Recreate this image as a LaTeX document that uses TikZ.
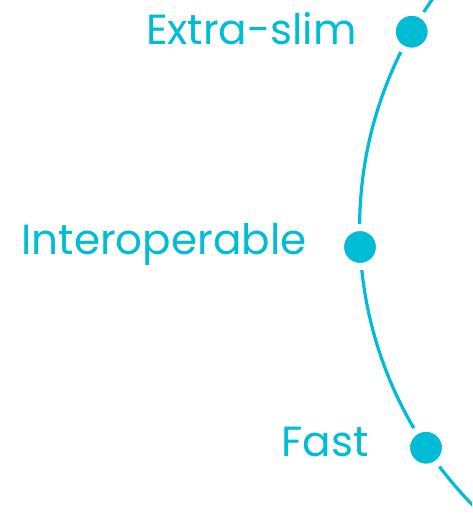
\documentclass[tikz,border=0pt]{standalone}
\usepackage{fontspec}
\setmainfont{Poppins}
\definecolor{accent}{RGB}{0,188,212}
\begin{document}
\begin{tikzpicture}[x=0.75pt,y=-0.75pt,
  dot/.style={circle,fill=accent,draw=white,line width=5.25pt,minimum size=29.25pt,inner sep=0pt},
  label/.style={anchor=base east,inner sep=0pt,text=accent,font=\fontsize{31.6pt}{36pt}\selectfont},
  arcline/.style={draw=accent,line width=2.4pt}]
\useasboundingbox (0,0) rectangle (472,529);
\begin{scope}
\clip (0,0) rectangle (472,529);
\coordinate (c) at (755.5,228.1);
\draw[arcline] (c) circle [radius=395.9*0.75pt];
\end{scope}
\node[dot] (d1) at (411.7,31.7) {};
\node[dot] (d2) at (360,247) {};
\node[dot] (d3) at (426,447.7) {};
\node[label] (t1) at (357,44) {Extra-slim};
\node[label] (t2) at (307,254.3) {Interoperable};
\node[label] (t3) at (369,456) {Fast};
\end{tikzpicture}
\end{document}
